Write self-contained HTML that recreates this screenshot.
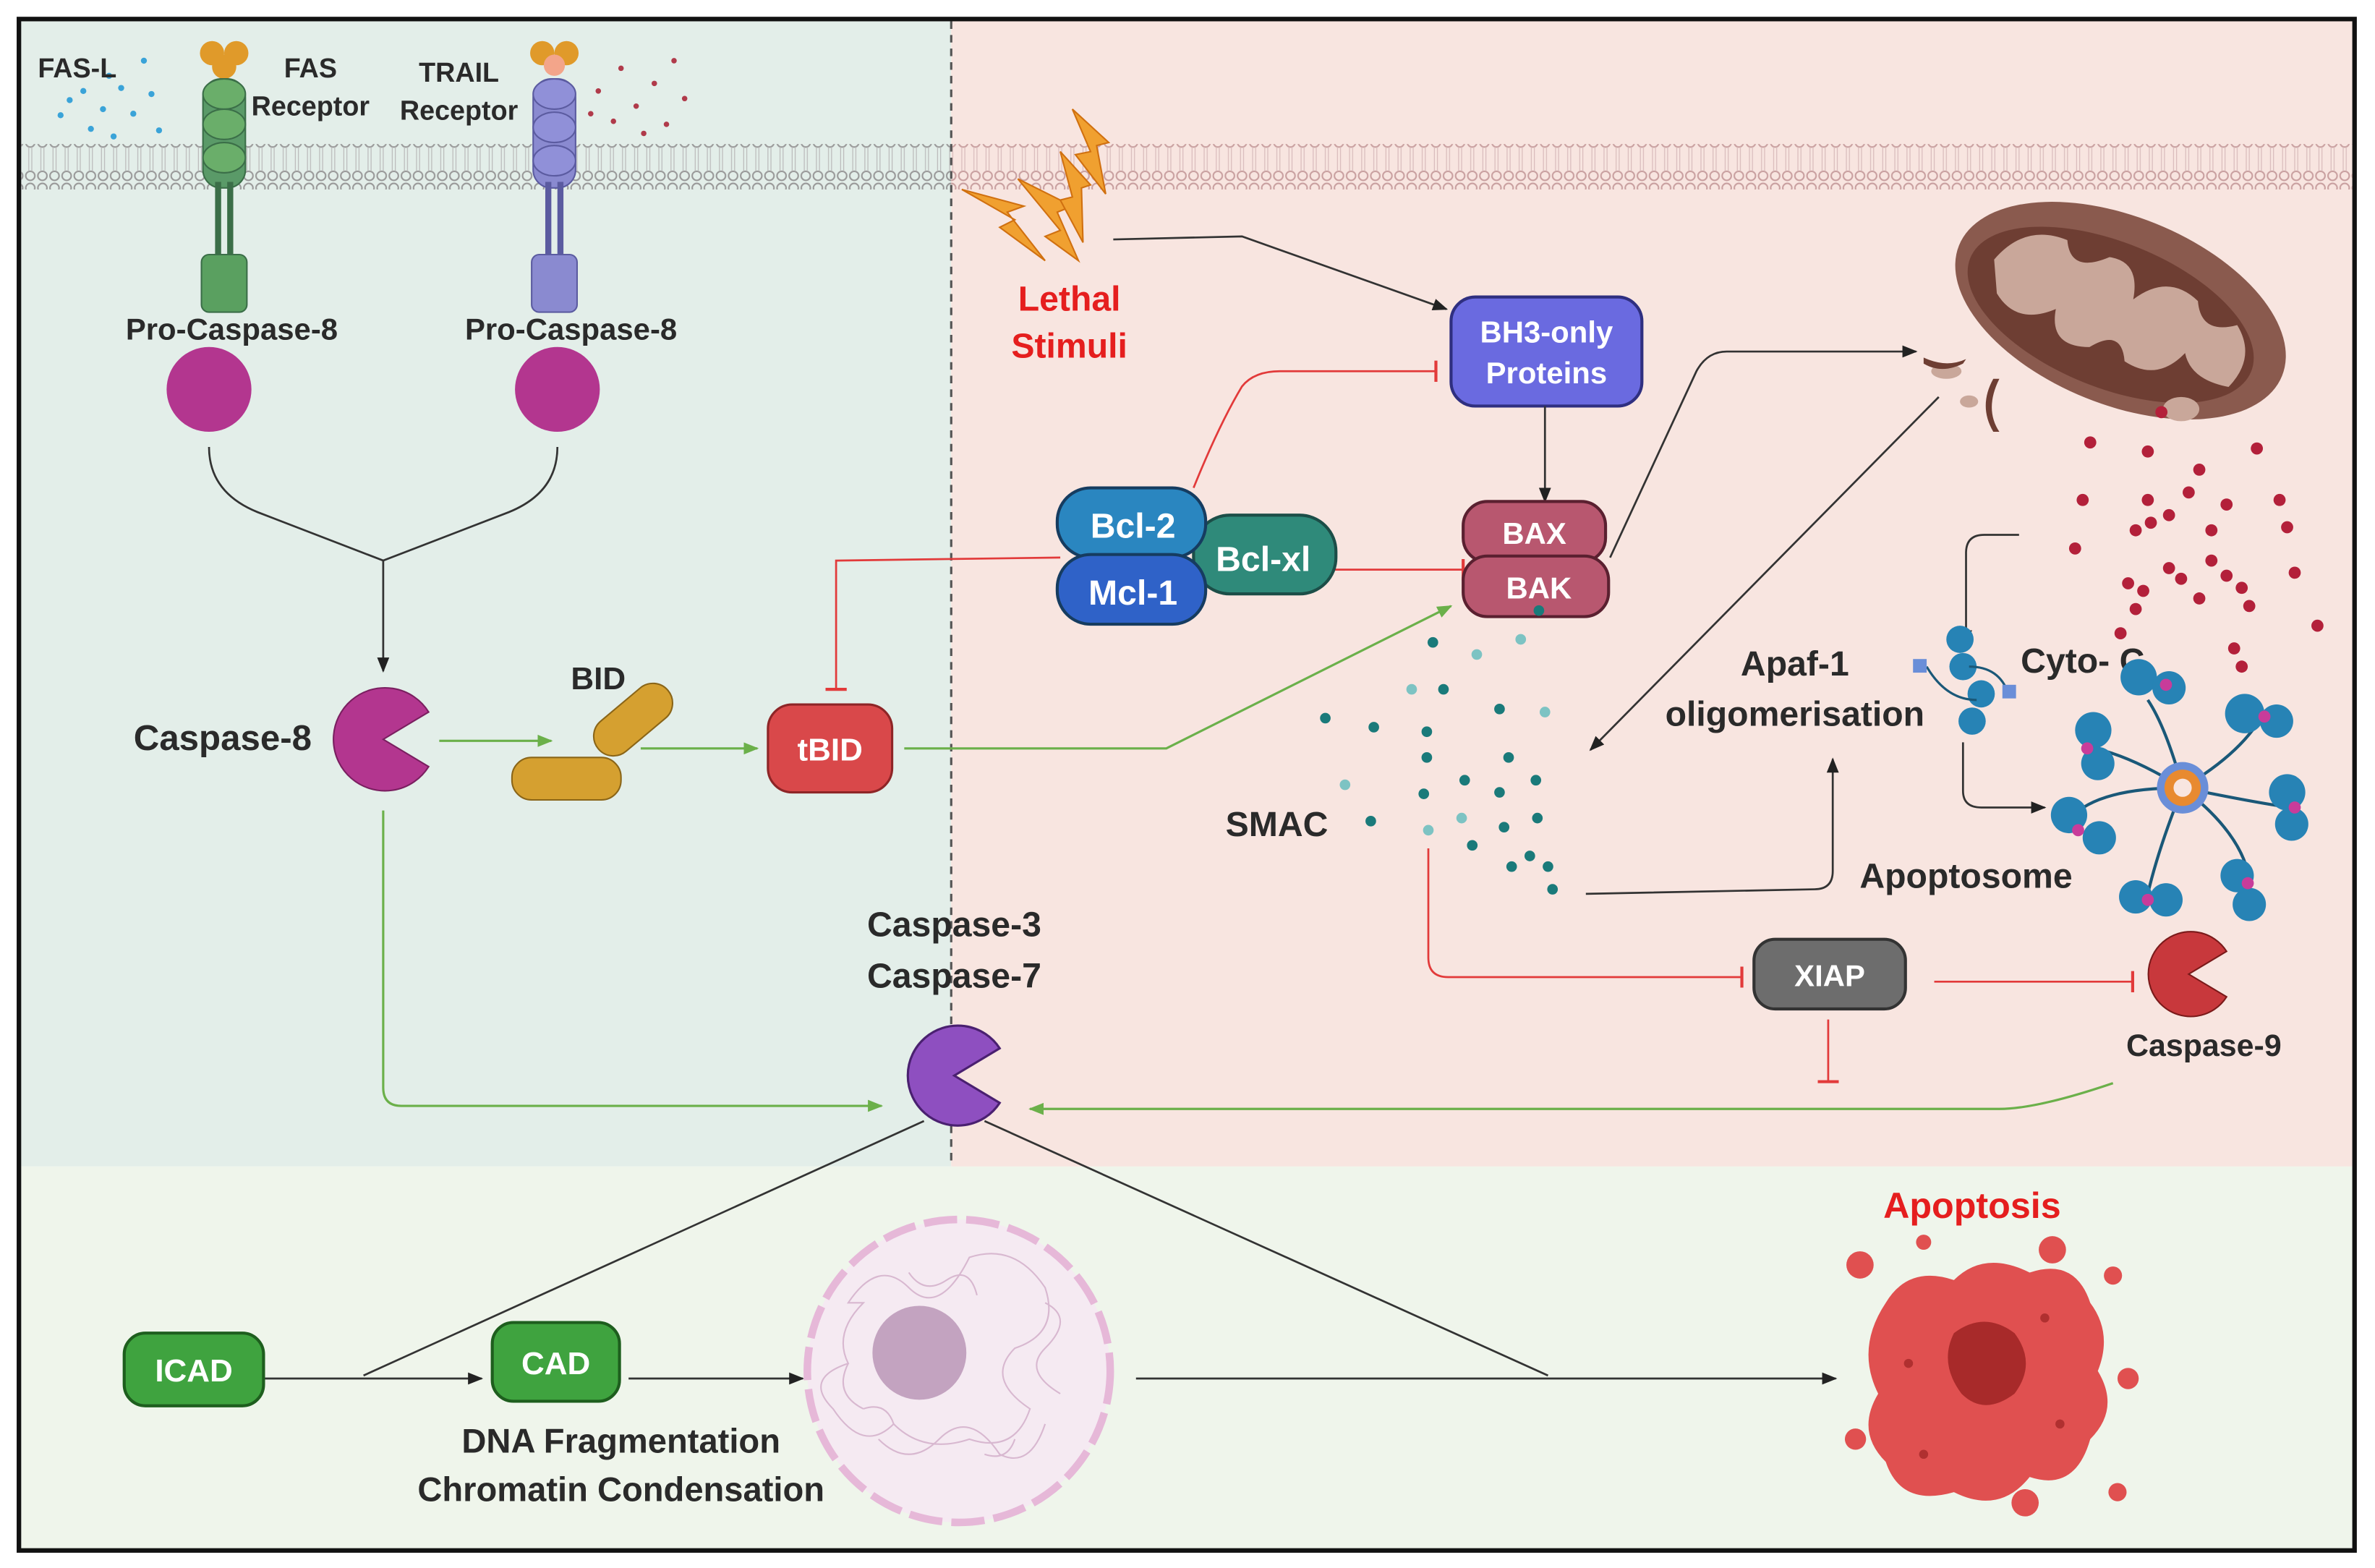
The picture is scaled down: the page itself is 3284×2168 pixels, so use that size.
<!DOCTYPE html>
<html><head><meta charset="utf-8"><style>
html,body{margin:0;padding:0;background:#fff;width:3284px;height:2168px;overflow:hidden}
svg{display:block}
text{font-family:"Liberation Sans",sans-serif;font-weight:bold;fill:#2a2a2a}
</style></head><body>
<svg width="3284" height="2168" viewBox="0 0 1568 1035" xmlns="http://www.w3.org/2000/svg">
<defs>
<marker id="ak" markerWidth="10" markerHeight="10" refX="9" refY="5" orient="auto" markerUnits="userSpaceOnUse"><path d="M0,1 L10,5 L0,9z" fill="#222"/></marker>
<marker id="ag" markerWidth="10" markerHeight="10" refX="9" refY="5" orient="auto" markerUnits="userSpaceOnUse"><path d="M0,1 L10,5 L0,9z" fill="#6bb04a"/></marker>
<marker id="tr" markerWidth="4" markerHeight="14" refX="2" refY="7" orient="auto" markerUnits="userSpaceOnUse"><rect x="1" y="0" width="2" height="14" fill="#e23a3a"/></marker>
<pattern id="mem" width="8" height="30" patternUnits="userSpaceOnUse">
<circle cx="4" cy="4" r="3" fill="none" stroke="#999" stroke-width="1"/>
<circle cx="4" cy="26" r="3" fill="none" stroke="#999" stroke-width="1"/>
<path d="M3,7 L3,23 M5,7 L5,23" stroke="#bbb" stroke-width="0.6"/>
</pattern>
<pattern id="memr" width="8" height="30" patternUnits="userSpaceOnUse">
<circle cx="4" cy="4" r="3" fill="none" stroke="#c9a0a0" stroke-width="1"/>
<circle cx="4" cy="26" r="3" fill="none" stroke="#c9a0a0" stroke-width="1"/>
<path d="M3,7 L3,23 M5,7 L5,23" stroke="#d9bcbc" stroke-width="0.6"/>
</pattern>
</defs>
<rect x="0" y="0" width="1568" height="1035" fill="#fff"/>
<rect x="14" y="14" width="614" height="756" fill="#e3eee9"/>
<rect x="628" y="14" width="925" height="756" fill="#f8e5e0"/>
<rect x="14" y="770" width="1539" height="253" fill="#eff5eb"/>
<rect x="12.5" y="12.5" width="1542" height="1011" fill="none" stroke="#111" stroke-width="3"/>
<rect x="14" y="95" width="614" height="30" fill="url(#mem)"/>
<rect x="628" y="95" width="925" height="30" fill="url(#memr)"/>
<line x1="628" y1="14" x2="628" y2="770" stroke="#555" stroke-width="1.5" stroke-dasharray="5,4"/>

<g fill="#3aa3d8">
<circle cx="40" cy="76" r="2"/><circle cx="55" cy="60" r="2"/><circle cx="68" cy="72" r="2"/><circle cx="80" cy="58" r="2"/><circle cx="95" cy="40" r="2"/><circle cx="60" cy="85" r="2"/><circle cx="88" cy="75" r="2"/><circle cx="100" cy="62" r="2"/><circle cx="75" cy="90" r="2"/><circle cx="46" cy="66" r="2"/><circle cx="105" cy="86" r="2"/><circle cx="72" cy="50" r="2"/>
</g>
<g fill="#b03a4a">
<circle cx="395" cy="60" r="1.8"/><circle cx="410" cy="45" r="1.8"/><circle cx="420" cy="70" r="1.8"/><circle cx="432" cy="55" r="1.8"/><circle cx="445" cy="40" r="1.8"/><circle cx="405" cy="80" r="1.8"/><circle cx="440" cy="82" r="1.8"/><circle cx="452" cy="65" r="1.8"/><circle cx="425" cy="88" r="1.8"/><circle cx="390" cy="75" r="1.8"/>
</g>
<text x="25" y="51" font-size="18">FAS-L</text>
<text x="205" y="51" font-size="18" text-anchor="middle">FAS</text>
<text x="205" y="76" font-size="18" text-anchor="middle">Receptor</text>
<text x="303" y="54" font-size="18" text-anchor="middle">TRAIL</text>
<text x="303" y="79" font-size="18" text-anchor="middle">Receptor</text>

<g>
<circle cx="140" cy="35" r="8" fill="#e09a2a"/><circle cx="156" cy="35" r="8" fill="#e09a2a"/><circle cx="148" cy="44" r="8" fill="#e09a2a"/>
<rect x="134" y="52" width="28" height="72" rx="12" fill="#5a9a68" stroke="#3b6e48"/>
<ellipse cx="148" cy="62" rx="14" ry="10" fill="#6aae6a" stroke="#3b6e48"/><ellipse cx="148" cy="82" rx="14" ry="10" fill="#6aae6a" stroke="#3b6e48"/><ellipse cx="148" cy="104" rx="14" ry="10" fill="#6aae6a" stroke="#3b6e48"/>
<rect x="142" y="120" width="4" height="50" fill="#3b6e48"/><rect x="150" y="120" width="4" height="50" fill="#3b6e48"/>
<rect x="133" y="168" width="30" height="38" rx="5" fill="#5aa060" stroke="#3b6e48"/>
</g>
<g>
<circle cx="358" cy="35" r="8" fill="#e09a2a"/><circle cx="374" cy="35" r="8" fill="#e09a2a"/><circle cx="366" cy="43" r="7" fill="#f3a58a"/>
<rect x="352" y="52" width="28" height="72" rx="12" fill="#8a8ad0" stroke="#5b5ba0"/>
<ellipse cx="366" cy="62" rx="14" ry="10" fill="#9090d8" stroke="#5b5ba0"/><ellipse cx="366" cy="84" rx="14" ry="10" fill="#9090d8" stroke="#5b5ba0"/><ellipse cx="366" cy="106" rx="14" ry="10" fill="#9090d8" stroke="#5b5ba0"/>
<rect x="360" y="120" width="4" height="50" fill="#5b5ba0"/><rect x="368" y="120" width="4" height="50" fill="#5b5ba0"/>
<rect x="351" y="168" width="30" height="38" rx="5" fill="#8a8ad0" stroke="#5b5ba0"/>
</g>
<text x="153" y="224" font-size="20" text-anchor="middle">Pro-Caspase-8</text>
<text x="377" y="224" font-size="20" text-anchor="middle">Pro-Caspase-8</text>
<circle cx="138" cy="257" r="28" fill="#b3368f"/>
<circle cx="368" cy="257" r="28" fill="#b3368f"/>
<path d="M138,295 Q138,325 170,338 L253,370 L336,338 Q368,325 368,295" fill="none" stroke="#333" stroke-width="1.3"/>
<line x1="253" y1="370" x2="253" y2="443" stroke="#333" stroke-width="1.3" marker-end="url(#ak)"/>

<path d="M253,488 L283,470 A34,34 0 1 0 283,506 Z" fill="#b3368f" stroke="#7a1f60" stroke-width="1"/>
<text x="147" y="495" font-size="23.5" text-anchor="middle">Caspase-8</text>
<line x1="290" y1="489" x2="364" y2="489" stroke="#6bb04a" stroke-width="1.5" marker-end="url(#ag)"/>
<text x="395" y="455" font-size="21" text-anchor="middle">BID</text>
<rect x="388" y="462" width="60" height="26" rx="13" fill="#d5a030" stroke="#8a6518" transform="rotate(-40 418 475)"/>
<rect x="338" y="500" width="72" height="28" rx="13" fill="#d5a030" stroke="#8a6518"/>
<line x1="423" y1="494" x2="500" y2="494" stroke="#6bb04a" stroke-width="1.5" marker-end="url(#ag)"/>
<rect x="507" y="465" width="82" height="58" rx="16" fill="#d9484a" stroke="#8e2527" stroke-width="1.5"/>
<text x="548" y="502" font-size="21" text-anchor="middle" style="fill:#fff">tBID</text>
<polyline points="597,494 770,494 958,400" fill="none" stroke="#6bb04a" stroke-width="1.5" marker-end="url(#ag)"/>

<path d="M700,368 L552,370 L552,455" fill="none" stroke="#e23a3a" stroke-width="1.3" marker-end="url(#tr)"/>
<path d="M788,322 Q805,280 820,255 Q828,245 845,245 L948,245" fill="none" stroke="#e23a3a" stroke-width="1.3" marker-end="url(#tr)"/>
<line x1="880" y1="376" x2="966" y2="376" stroke="#e23a3a" stroke-width="1.3" marker-end="url(#tr)"/>
<rect x="788" y="340" width="94" height="52" rx="24" fill="#2f8a7a" stroke="#1c4e48" stroke-width="2"/>
<text x="834" y="377" font-size="23" text-anchor="middle" style="fill:#fff">Bcl-xl</text>
<rect x="698" y="322" width="98" height="46" rx="22" fill="#2a86c0" stroke="#163c60" stroke-width="2"/>
<text x="748" y="355" font-size="23" text-anchor="middle" style="fill:#fff">Bcl-2</text>
<rect x="698" y="366" width="98" height="46" rx="22" fill="#2f62c8" stroke="#163c60" stroke-width="2"/>
<text x="748" y="399" font-size="23" text-anchor="middle" style="fill:#fff">Mcl-1</text>

<g fill="#f0a030" stroke="#d07010" stroke-width="1">
<path d="M635,125 L670,145 L660,150 L690,172 L665,140 L676,136 Z"/>
<path d="M672,118 L700,152 L690,156 L712,172 L698,140 L708,136 Z"/>
<path d="M708,72 L720,100 L710,102 L730,128 L724,96 L732,94 Z"/>
<path d="M700,100 L708,130 L700,132 L715,160 L714,124 L720,122 Z"/>
</g>
<text x="706" y="205" font-size="23" text-anchor="middle" style="fill:#e51e1e">Lethal</text>
<text x="706" y="236" font-size="23" text-anchor="middle" style="fill:#e51e1e">Stimuli</text>
<path d="M735,158 L820,156 L955,204" fill="none" stroke="#333" stroke-width="1.3" marker-end="url(#ak)"/>

<rect x="958" y="196" width="126" height="72" rx="16" fill="#6a6ae0" stroke="#2f2f80" stroke-width="2"/>
<text x="1021" y="226" font-size="20" text-anchor="middle" style="fill:#fff">BH3-only</text>
<text x="1021" y="253" font-size="20" text-anchor="middle" style="fill:#fff">Proteins</text>
<line x1="1020" y1="268" x2="1020" y2="331" stroke="#333" stroke-width="1.3" marker-end="url(#ak)"/>
<rect x="966" y="331" width="94" height="40" rx="16" fill="#b8576f" stroke="#5a2030" stroke-width="2"/>
<text x="1013" y="359" font-size="20" text-anchor="middle" style="fill:#fff">BAX</text>
<rect x="966" y="367" width="96" height="40" rx="16" fill="#b8576f" stroke="#5a2030" stroke-width="2"/>
<text x="1016" y="395" font-size="20" text-anchor="middle" style="fill:#fff">BAK</text>
<path d="M1063,368 L1120,245 Q1127,232 1140,232 L1265,232" fill="none" stroke="#333" stroke-width="1.3" marker-end="url(#ak)"/>

<g transform="translate(1400,205) rotate(22)">
<ellipse cx="0" cy="0" rx="115" ry="62" fill="#8a5a4e"/>
<ellipse cx="-5" cy="5" rx="100" ry="48" fill="#6e3e33"/>
<path d="M-90,0 Q-80,-30 -50,-30 Q-40,-10 -20,-30 Q0,-35 5,-10 Q20,-35 45,-25 Q55,-5 75,-20 Q95,-5 85,20 Q60,25 50,10 Q40,35 15,30 Q5,10 -10,30 Q-35,40 -40,15 Q-60,35 -80,20 Z" fill="#c9a79a"/>
</g>
<g fill="#c9a79a"><ellipse cx="1285" cy="245" rx="10" ry="5"/><ellipse cx="1300" cy="265" rx="6" ry="4"/><ellipse cx="1440" cy="270" rx="12" ry="8"/></g>
<g fill="#6e3e33"><path d="M1270,236 Q1285,243 1298,237 L1296,240 Q1282,247 1270,240Z"/><path d="M1320,250 Q1310,270 1320,285 L1316,285 Q1306,268 1316,250Z"/></g>
<g fill="#b3203a">
<circle cx="1427" cy="272" r="4"/><circle cx="1380" cy="292" r="4"/><circle cx="1418" cy="298" r="4"/><circle cx="1452" cy="310" r="4"/><circle cx="1490" cy="296" r="4"/><circle cx="1375" cy="330" r="4"/><circle cx="1418" cy="330" r="4"/><circle cx="1445" cy="325" r="4"/><circle cx="1470" cy="333" r="4"/><circle cx="1505" cy="330" r="4"/><circle cx="1420" cy="345" r="4"/><circle cx="1432" cy="340" r="4"/><circle cx="1460" cy="350" r="4"/><circle cx="1410" cy="350" r="4"/><circle cx="1370" cy="362" r="4"/><circle cx="1510" cy="348" r="4"/><circle cx="1460" cy="370" r="4"/><circle cx="1405" cy="385" r="4"/><circle cx="1415" cy="390" r="4"/><circle cx="1432" cy="375" r="4"/><circle cx="1440" cy="382" r="4"/><circle cx="1470" cy="380" r="4"/><circle cx="1480" cy="388" r="4"/><circle cx="1515" cy="378" r="4"/><circle cx="1452" cy="395" r="4"/><circle cx="1410" cy="402" r="4"/><circle cx="1485" cy="400" r="4"/><circle cx="1400" cy="418" r="4"/><circle cx="1475" cy="428" r="4"/><circle cx="1530" cy="413" r="4"/><circle cx="1480" cy="440" r="4"/>
</g>
<line x1="1280" y1="262" x2="1050" y2="495" stroke="#333" stroke-width="1.3" marker-end="url(#ak)"/>

<g>
<circle cx="1004" cy="422" r="3.5" fill="#7dc3c3"/><circle cx="975" cy="432" r="3.5" fill="#7dc3c3"/><circle cx="946" cy="424" r="3.5" fill="#1a7a7a"/><circle cx="953" cy="455" r="3.5" fill="#1a7a7a"/><circle cx="932" cy="455" r="3.5" fill="#7dc3c3"/><circle cx="875" cy="474" r="3.5" fill="#1a7a7a"/><circle cx="907" cy="480" r="3.5" fill="#1a7a7a"/><circle cx="942" cy="483" r="3.5" fill="#1a7a7a"/><circle cx="990" cy="468" r="3.5" fill="#1a7a7a"/><circle cx="1020" cy="470" r="3.5" fill="#7dc3c3"/><circle cx="888" cy="518" r="3.5" fill="#7dc3c3"/><circle cx="942" cy="500" r="3.5" fill="#1a7a7a"/><circle cx="967" cy="515" r="3.5" fill="#1a7a7a"/><circle cx="996" cy="500" r="3.5" fill="#1a7a7a"/><circle cx="1014" cy="515" r="3.5" fill="#1a7a7a"/><circle cx="940" cy="524" r="3.5" fill="#1a7a7a"/><circle cx="990" cy="523" r="3.5" fill="#1a7a7a"/><circle cx="905" cy="542" r="3.5" fill="#1a7a7a"/><circle cx="965" cy="540" r="3.5" fill="#7dc3c3"/><circle cx="1015" cy="540" r="3.5" fill="#1a7a7a"/><circle cx="943" cy="548" r="3.5" fill="#7dc3c3"/><circle cx="972" cy="558" r="3.5" fill="#1a7a7a"/><circle cx="993" cy="546" r="3.5" fill="#1a7a7a"/><circle cx="1010" cy="565" r="3.5" fill="#1a7a7a"/><circle cx="998" cy="572" r="3.5" fill="#1a7a7a"/><circle cx="1022" cy="572" r="3.5" fill="#1a7a7a"/><circle cx="1025" cy="587" r="3.5" fill="#1a7a7a"/><circle cx="1016" cy="403" r="3.5" fill="#1a7a7a"/>
</g>
<text x="843" y="552" font-size="23" text-anchor="middle">SMAC</text>
<path d="M1047,590 L1198,587 Q1210,587 1210,575 L1210,501" fill="none" stroke="#333" stroke-width="1.3" marker-end="url(#ak)"/>
<text x="1185" y="446" font-size="23" text-anchor="middle">Apaf-1</text>
<text x="1185" y="479" font-size="23" text-anchor="middle">oligomerisation</text>
<text x="1375" y="444" font-size="23" text-anchor="middle">Cyto- C</text>
<path d="M1333,353 L1310,353 Q1298,353 1298,365 L1298,425" fill="none" stroke="#333" stroke-width="1.3" marker-end="url(#ak)"/>
<g fill="#2783b5">
<circle cx="1294" cy="422" r="9"/><circle cx="1296" cy="440" r="9"/><circle cx="1308" cy="458" r="9"/><circle cx="1302" cy="476" r="9"/>
</g>
<path d="M1272,440 Q1285,462 1305,462 M1300,440 Q1320,440 1326,458" fill="none" stroke="#1a5878" stroke-width="1.5"/>
<rect x="1263" y="435" width="9" height="9" fill="#6a8ed8"/><rect x="1322" y="452" width="9" height="9" fill="#6a8ed8"/>
<path d="M1296,490 L1296,522 Q1296,533 1308,533 L1350,533" fill="none" stroke="#333" stroke-width="1.3" marker-end="url(#ak)"/>

<g stroke="#1a5878" stroke-width="2" fill="none">
<path d="M1441,520 Q1430,480 1418,462"/><path d="M1441,520 Q1475,500 1490,478"/><path d="M1441,520 Q1400,495 1375,493"/><path d="M1441,520 Q1490,530 1512,533"/><path d="M1441,520 Q1385,520 1367,540"/><path d="M1441,520 Q1480,550 1485,580"/><path d="M1441,520 Q1425,560 1418,590"/>
</g>
<g fill="#2783b5">
<circle cx="1412" cy="447" r="12"/><circle cx="1432" cy="454" r="11"/><circle cx="1482" cy="471" r="13"/><circle cx="1503" cy="476" r="11"/><circle cx="1382" cy="482" r="12"/><circle cx="1385" cy="504" r="11"/><circle cx="1510" cy="523" r="12"/><circle cx="1513" cy="544" r="11"/><circle cx="1366" cy="538" r="12"/><circle cx="1386" cy="553" r="11"/><circle cx="1477" cy="578" r="11"/><circle cx="1485" cy="597" r="11"/><circle cx="1410" cy="592" r="11"/><circle cx="1430" cy="594" r="11"/>
</g>
<g fill="#c83c9a"><circle cx="1430" cy="452" r="4"/><circle cx="1495" cy="473" r="4"/><circle cx="1378" cy="494" r="4"/><circle cx="1515" cy="533" r="4"/><circle cx="1372" cy="548" r="4"/><circle cx="1484" cy="583" r="4"/><circle cx="1418" cy="594" r="4"/></g>
<circle cx="1441" cy="520" r="17" fill="#6a8ed8"/>
<circle cx="1441" cy="520" r="12" fill="#e88a30"/>
<circle cx="1441" cy="520" r="6" fill="#f8e5e0"/>
<text x="1298" y="586" font-size="23" text-anchor="middle">Apoptosome</text>

<path d="M943,560 L943,632 Q943,645 956,645 L1150,645" fill="none" stroke="#e23a3a" stroke-width="1.3" marker-end="url(#tr)"/>
<rect x="1158" y="620" width="100" height="46" rx="14" fill="#6d6d6d" stroke="#333" stroke-width="2"/>
<text x="1208" y="651" font-size="20" text-anchor="middle" style="fill:#fff">XIAP</text>
<line x1="1277" y1="648" x2="1408" y2="648" stroke="#e23a3a" stroke-width="1.3" marker-end="url(#tr)"/>
<line x1="1207" y1="673" x2="1207" y2="714" stroke="#e23a3a" stroke-width="1.3" marker-end="url(#tr)"/>
<path d="M1445,643 L1470,628 A28,28 0 1 0 1470,658 Z" fill="#c8383c" stroke="#7a1a1a"/>
<text x="1455" y="697" font-size="20.5" text-anchor="middle">Caspase-9</text>
<path d="M1395,715 Q1345,732 1320,732 L680,732" fill="none" stroke="#6bb04a" stroke-width="1.5" marker-end="url(#ag)"/>

<path d="M253,535 L253,718 Q253,730 265,730 L582,730" fill="none" stroke="#6bb04a" stroke-width="1.5" marker-end="url(#ag)"/>
<text x="630" y="618" font-size="23" text-anchor="middle">Caspase-3</text>
<text x="630" y="652" font-size="23" text-anchor="middle">Caspase-7</text>
<path d="M630,710 L660,692 A33,33 0 1 0 660,728 Z" fill="#8e4fc0" stroke="#4a2070" stroke-width="1.5"/>
<line x1="610" y1="740" x2="240" y2="908" stroke="#333" stroke-width="1.3"/>
<line x1="650" y1="740" x2="1022" y2="908" stroke="#333" stroke-width="1.3"/>

<rect x="82" y="880" width="92" height="48" rx="14" fill="#3fa33f" stroke="#1e5e1e" stroke-width="2"/>
<text x="128" y="912" font-size="21" text-anchor="middle" style="fill:#fff">ICAD</text>
<line x1="175" y1="910" x2="318" y2="910" stroke="#333" stroke-width="1.3" marker-end="url(#ak)"/>
<rect x="325" y="873" width="84" height="52" rx="14" fill="#3fa33f" stroke="#1e5e1e" stroke-width="2"/>
<text x="367" y="907" font-size="21" text-anchor="middle" style="fill:#fff">CAD</text>
<line x1="415" y1="910" x2="530" y2="910" stroke="#333" stroke-width="1.3" marker-end="url(#ak)"/>
<text x="410" y="959" font-size="22.5" text-anchor="middle">DNA Fragmentation</text>
<text x="410" y="991" font-size="22.5" text-anchor="middle">Chromatin Condensation</text>
<circle cx="633" cy="905" r="100" fill="#f5eaf2" stroke="#e6b8d8" stroke-width="5" stroke-dasharray="22,6"/>
<g fill="none" stroke="#d8b8d0" stroke-width="1">
<path d="M560,860 q20,-30 40,-10 q20,20 40,-20 q30,-10 50,20 q10,30 -20,40 q-20,20 10,40 q-10,30 -40,20 q-30,10 -50,-10 q-20,20 -40,-10 q-20,-20 10,-30 q-10,-20 10,-40z"/>
<path d="M580,950 q20,20 40,0 q20,-20 40,10 q20,10 30,-20"/>
<path d="M560,900 q-10,20 10,30 M690,860 q20,10 0,30 q-15,15 10,30"/>
<path d="M600,840 q10,15 25,5 q15,-10 20,10 M650,960 q15,5 20,-10 M570,930 q15,-5 20,10"/>
</g>
<circle cx="607" cy="893" r="31" fill="#c3a3c0"/>
<line x1="750" y1="910" x2="1212" y2="910" stroke="#333" stroke-width="1.3" marker-end="url(#ak)"/>
<text x="1302" y="804" font-size="24" text-anchor="middle" style="fill:#e51e1e">Apoptosis</text>
<g fill="#e05050">
<path d="M1245,860 Q1260,835 1290,845 Q1310,825 1340,840 Q1370,830 1380,860 Q1395,880 1385,905 Q1400,930 1380,950 Q1370,985 1340,975 Q1320,1000 1290,985 Q1255,995 1245,965 Q1225,945 1240,920 Q1225,890 1245,860Z"/>
<circle cx="1228" cy="835" r="9"/><circle cx="1355" cy="825" r="9"/><circle cx="1395" cy="842" r="6"/><circle cx="1398" cy="985" r="6"/><circle cx="1337" cy="992" r="9"/><circle cx="1225" cy="950" r="7"/><circle cx="1270" cy="820" r="5"/><circle cx="1405" cy="910" r="7"/>
</g>
<path d="M1290,880 Q1310,865 1330,880 Q1345,900 1330,920 Q1310,935 1295,920 Q1280,900 1290,880Z" fill="#a82a2a"/>
<g fill="#b03030"><circle cx="1260" cy="900" r="3"/><circle cx="1360" cy="940" r="3"/><circle cx="1270" cy="960" r="3"/><circle cx="1350" cy="870" r="3"/></g>
</svg>
</body></html>
